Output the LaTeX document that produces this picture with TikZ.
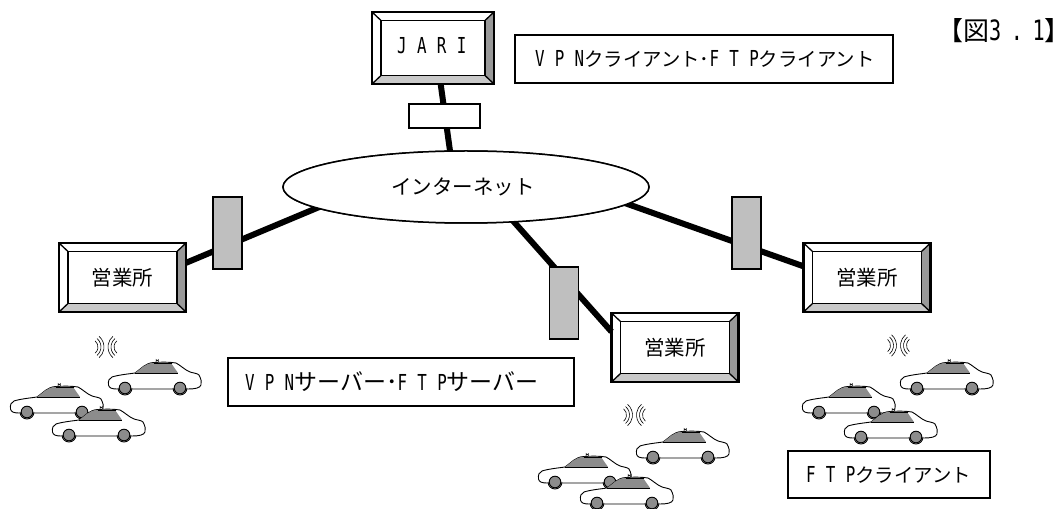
\documentclass[tikz,border=0pt]{standalone}
\usepackage{fontspec}
\usetikzlibrary{shapes.geometric,calc}
\setmainfont{Noto Sans CJK JP}
\newfontfamily\ltr[FakeStretch=0.72,LetterSpace=47]{DejaVu Sans Mono}
\newfontfamily\ltrbig[FakeStretch=0.72,LetterSpace=34]{DejaVu Sans Mono}
\newcommand{\wlat}[1]{{\ltr\fontsize{22}{22}\selectfont #1}}
\newcommand{\biglat}[1]{{\ltrbig\fontsize{28}{28}\selectfont #1}}
\definecolor{bevelright}{gray}{0.6}
\definecolor{bevelbottom}{gray}{0.79}
\definecolor{routerfill}{gray}{0.75}
\definecolor{windowfill}{gray}{0.55}
\tikzset{
  outerbox/.style={draw,line width=2.2pt,fill=white,minimum width=#1,inner sep=0pt,outer sep=0pt},
  innerbox/.style={draw,line width=1.8pt,fill=white,inner sep=0pt,outer sep=0pt,font=\fontsize{20.5}{20}\selectfont},
  link/.style={line width=6pt},
  netlink/.style={link,shorten >=-5pt},
  router/.style={draw,line width=1.6pt,fill=routerfill,minimum width=29pt,minimum height=72pt,inner sep=0pt},
  tag/.style={draw,line width=1.6pt,fill=white,inner sep=0pt,font=\fontsize{19.4}{19}\selectfont},
  cloud/.style={draw,ellipse,line width=1.5pt,fill=white,minimum width=366pt,minimum height=72pt,inner sep=0pt,outer sep=0pt},
  wavearc/.style={line width=0.6pt},
  carline/.style={line width=0.9pt},
}
% Framed box with a bevelled edge: outer node #1, centre #2, size #3 x #4, caption #5
\newcommand{\bevel}[5]{
  \node[outerbox=#3pt,minimum height=#4pt] (#1) at #2 {};
  \node[innerbox,minimum width=#3pt-18pt,minimum height=#4pt-17pt] (#1in) at #2 {#5};
  \fill[bevelright] (#1.north east) -- (#1in.north east) -- (#1in.south east) -- (#1.south east) -- cycle;
  \fill[bevelbottom] (#1.south west) -- (#1in.south west) -- (#1in.south east) -- (#1.south east) -- cycle;
  \draw[line width=1.3pt] (#1.north west) -- (#1in.north west) (#1.north east) -- (#1in.north east)
    (#1.south west) -- (#1in.south west) (#1.south east) -- (#1in.south east);
  \draw[line width=2.2pt] (#1.north west) rectangle (#1.south east);
  \draw[line width=1.8pt] (#1in.north west) rectangle (#1in.south east);
}
% Taxi seen from the side, origin at the lower left of the body
\newcommand{\taxi}[2]{
  \begin{scope}[shift={(#1,#2)}]
    \draw[line width=0.5pt,fill=white] (48,-27) -- ++(0,-3.5) arc[start angle=180,end angle=0,radius=1.2] -- ++(0,3.5) -- cycle;
    \draw[carline,fill=white] (9,-1) .. controls (4,-1) and (1,-2) .. (0.5,-5)
      .. controls (0,-9) and (1,-12) .. (4,-13) .. controls (10,-15) and (20,-16) .. (27,-17)
      .. controls (33,-21) and (37,-27) .. (46,-27.5) .. controls (54,-28) and (62,-28) .. (68,-27)
      .. controls (72,-25) and (77,-20) .. (82,-18) .. controls (85,-17) and (90,-16.5) .. (91,-15)
      .. controls (93,-11) and (94,-8) .. (93,-5) .. controls (92,-2) and (87,-1) .. (80,-1) -- cycle;
    \fill[windowfill] (27,-17) .. controls (33,-21) and (37,-27) .. (46,-27) -- (63,-27) -- (70,-17) -- cycle;
    \draw[line width=0.7pt] (27,-17) -- (70,-17) (46,-27) -- (64,-27);
    \foreach \cx in {17,72} {
      \fill[white] (\cx,-2) circle (7.5);
      \draw[carline,fill=windowfill] (\cx,-2) circle (5.8);
      \draw[carline] (\cx-7,-2) arc[start angle=180,end angle=0,radius=7];
    }
  \end{scope}
}
% Radio waves on either side of a centre point
\newcommand{\radiowaves}[2]{
  \begin{scope}[shift={(#1,#2)}]
    \foreach \r in {8,11,14} {
      \draw[wavearc] ($(-16,0)+(-50:\r)$) arc[start angle=-50,end angle=50,radius=\r];
      \draw[wavearc] ($(16,0)+(130:\r)$) arc[start angle=130,end angle=230,radius=\r];
    }
  \end{scope}
}
\begin{document}
\begin{tikzpicture}[x=1pt,y=-1pt]
  \useasboundingbox (0,0) rectangle (1058,510);
  % Hosts and the network
  \node[cloud] (net) at (466,187) {};
  \bevel{jari}{(433,48)}{122}{72}{}
  \node[anchor=west,inner sep=0pt] (jarilabel) at (397,46) {\wlat{JARI}};
  \bevel{officeL}{(122.5,277.5)}{127}{69}{営業所}
  \bevel{officeM}{(675,347.5)}{127}{69}{営業所}
  \bevel{officeR}{(867,277.5)}{127}{69}{営業所}
  % Leased lines run under the face of the cloud
  \draw[netlink] (jari.-78) -- (net.114);
  \draw[netlink] (officeL.13) -- (net.188);
  \draw[netlink] (officeM.166) -- (net.-36);
  \draw[netlink] (officeR.170) -- (net.-6);
  \node[cloud] (netface) at (net.center) {};
  \node[font=\fontsize{20.5}{20}\selectfont,inner sep=0pt] (netlabel) at (463,187) {インターネット};
  % Routers on the lines
  \node[draw,line width=1.6pt,fill=white,minimum width=71pt,minimum height=24pt,inner sep=0pt] (gw) at (444.5,116) {};
  \node[router] (rtL) at (227.5,233) {};
  \node[router] (rtM) at (564,303) {};
  \node[router] (rtR) at (746.5,233) {};
  % Role captions
  \node[tag,minimum width=378pt,minimum height=48pt,text width=378pt] (capClient) at (704,59) {\hspace*{20pt}\wlat{VPN}クライアント･\wlat{FTP}クライアント};
  \node[tag,minimum width=346pt,minimum height=48pt,text width=346pt,font=\fontsize{23}{23}\selectfont] (capServer) at (401,382) {\hspace*{17pt}\wlat{VPN}サーバー･\wlat{FTP}サーバー};
  \node[tag,minimum width=202pt,minimum height=47pt,text width=202pt] (capFtp) at (889,474.5) {\hspace*{18pt}\wlat{FTP}クライアント};
  \node[anchor=west,inner sep=0pt,font=\fontsize{26}{26}\selectfont] (figno) at (937,31) {【図\biglat{3.1}\makebox[12pt][l]{】}};
  % Taxis and radio links
  \radiowaves{106}{347}
  \taxi{108}{390}
  \taxi{10}{414}
  \taxi{52}{437}
  \radiowaves{634.5}{415}
  \begin{scope}
    \clip (500,380) rectangle (760,508);
    \taxi{636}{459}
    \taxi{538}{484}
    \taxi{580}{505}
  \end{scope}
  \radiowaves{898.5}{345.5}
  \taxi{900}{390}
  \taxi{802}{414}
  \taxi{844}{439}
\end{tikzpicture}
\end{document}
